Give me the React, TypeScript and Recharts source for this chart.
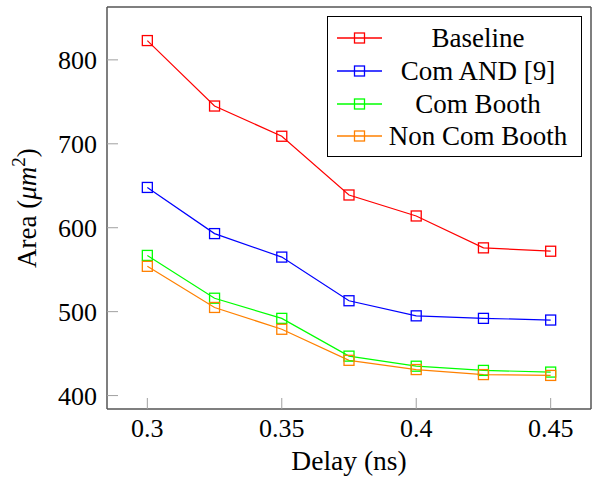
import React from 'react';
import { LineChart, Line, XAxis, YAxis, Legend, Label } from 'recharts';

const delays = [0.3, 0.325, 0.35, 0.375, 0.4, 0.425, 0.45];
const baseline = [823, 745, 709, 639, 614, 576, 572];
const comAnd = [648, 593, 565, 513, 495, 492, 490];
const comBooth = [567, 516, 492, 447, 435, 430, 428];
const nonComBooth = [554, 505, 479, 442, 431, 425, 424];

const xTicks = [0.3, 0.35, 0.4, 0.45];
const yTicks = [400, 500, 600, 700, 800];

const seriesNames = ['Baseline', 'Com AND [9]', 'Com Booth', 'Non Com Booth'];
const seriesColors = ['#ff0000', '#0000ff', '#00ff00', '#ff8000'];
const seriesKeys = ['baseline', 'comAnd', 'comBooth', 'nonComBooth'];

const data = delays.map((d, i) => ({
  delay: d,
  baseline: baseline[i],
  comAnd: comAnd[i],
  comBooth: comBooth[i],
  nonComBooth: nonComBooth[i],
}));

const FONT = '"Liberation Serif", "Times New Roman", Times, serif';
const FRAME = '#555555';
const TICK = '#a0a0a0';

const SquareDot = (color: string) => (props: any) => {
  const { cx, cy, index } = props;
  if (cx == null || cy == null) return <g key={index} />;
  return (
    <rect key={index} x={cx - 5} y={cy - 5} width={10} height={10} fill="none" stroke={color} strokeWidth={1.3} />
  );
};

const LegendBox = () => (
  <div
    style={{
      border: '1.5px solid #000',
      background: '#fff',
      padding: '5px 9px 5px 8px',
      fontFamily: FONT,
      fontSize: 27,
      color: '#000',
      boxSizing: 'border-box',
      width: 255,
      height: 141,
    }}
  >
    {seriesNames.map((n, i) => (
      <div key={n} style={{ display: 'flex', alignItems: 'center', height: 32.7 }}>
        <svg width={48} height={20} style={{ flex: 'none' }}>
          <line x1={1} y1={10} x2={46} y2={10} stroke={seriesColors[i]} strokeWidth={1.3} />
          <rect x={18.5} y={5} width={10} height={10} fill="none" stroke={seriesColors[i]} strokeWidth={1.3} />
        </svg>
        <div style={{ flex: 1, textAlign: 'center', lineHeight: '32px', whiteSpace: 'nowrap' }}>{n}</div>
      </div>
    ))}
  </div>
);

const YLabel = (props: any) => {
  const vb = props.viewBox || { x: 0, y: 7, width: 107, height: 402 };
  const cy = vb.y + vb.height / 2;
  const x = 36;
  return (
    <text
      transform={`translate(${x}, ${cy}) rotate(-90)`}
      textAnchor="middle"
      fontFamily={FONT}
      fontSize={27}
      fill="#000"
    >
      <tspan>Area (</tspan>
      <tspan fontStyle="italic">μm</tspan>
      <tspan fontSize={19} dy={-11}>2</tspan>
      <tspan dy={11}>)</tspan>
    </text>
  );
};

export default function App() {
  return (
    <div style={{ position: 'absolute', left: 0, top: 0 }}>
      <LineChart width={593} height={477} data={data} margin={{ top: 7, right: 2, left: 0, bottom: 0 }}>
        <XAxis
          xAxisId="b"
          dataKey="delay"
          type="number"
          domain={[0.285, 0.465]}
          ticks={xTicks}
          allowDataOverflow
          height={68}
          tickSize={-11}
          tickMargin={21}
          axisLine={{ stroke: FRAME, strokeWidth: 1.5 }}
          tickLine={{ stroke: TICK, strokeWidth: 1 }}
          tick={{ fontFamily: FONT, fontSize: 26, fill: '#000' }}
        >
          <Label value="Delay (ns)" position="insideBottom" offset={7} style={{ fontFamily: FONT, fontSize: 27.5, fill: '#000' }} />
        </XAxis>
        <XAxis
          xAxisId="t"
          dataKey="delay"
          type="number"
          orientation="top"
          mirror
          domain={[0.285, 0.465]}
          ticks={xTicks}
          allowDataOverflow
          height={1}
          tickSize={11}
          tick={false}
          axisLine={{ stroke: FRAME, strokeWidth: 1.5 }}
          tickLine={{ stroke: TICK, strokeWidth: 1 }}
        />
        <YAxis
          yAxisId="l"
          type="number"
          domain={[384, 863]}
          ticks={yTicks}
          allowDataOverflow
          width={107}
          tickSize={-11}
          tickMargin={21}
          axisLine={{ stroke: FRAME, strokeWidth: 1.5 }}
          tickLine={{ stroke: TICK, strokeWidth: 1 }}
          tick={{ fontFamily: FONT, fontSize: 26, fill: '#000' }}
        >
          <Label content={<YLabel />} />
        </YAxis>
        <YAxis
          yAxisId="r"
          type="number"
          orientation="right"
          mirror
          domain={[384, 863]}
          ticks={yTicks}
          allowDataOverflow
          width={1}
          tickSize={11}
          tick={false}
          axisLine={{ stroke: FRAME, strokeWidth: 1.5 }}
          tickLine={{ stroke: TICK, strokeWidth: 1 }}
        />
        <Legend
          layout="vertical"
          align="center"
          verticalAlign="middle"
          content={() => <LegendBox />}
          wrapperStyle={{ left: 327, top: 16, width: 255, height: 141 }}
        />
        {seriesKeys.map((k, i) => (
          <Line
            key={k}
            xAxisId="b"
            yAxisId="l"
            dataKey={k}
            name={seriesNames[i]}
            stroke={seriesColors[i]}
            strokeWidth={1.2}
            dot={SquareDot(seriesColors[i])}
            activeDot={false}
            isAnimationActive={false}
          />
        ))}
      </LineChart>
    </div>
  );
}
